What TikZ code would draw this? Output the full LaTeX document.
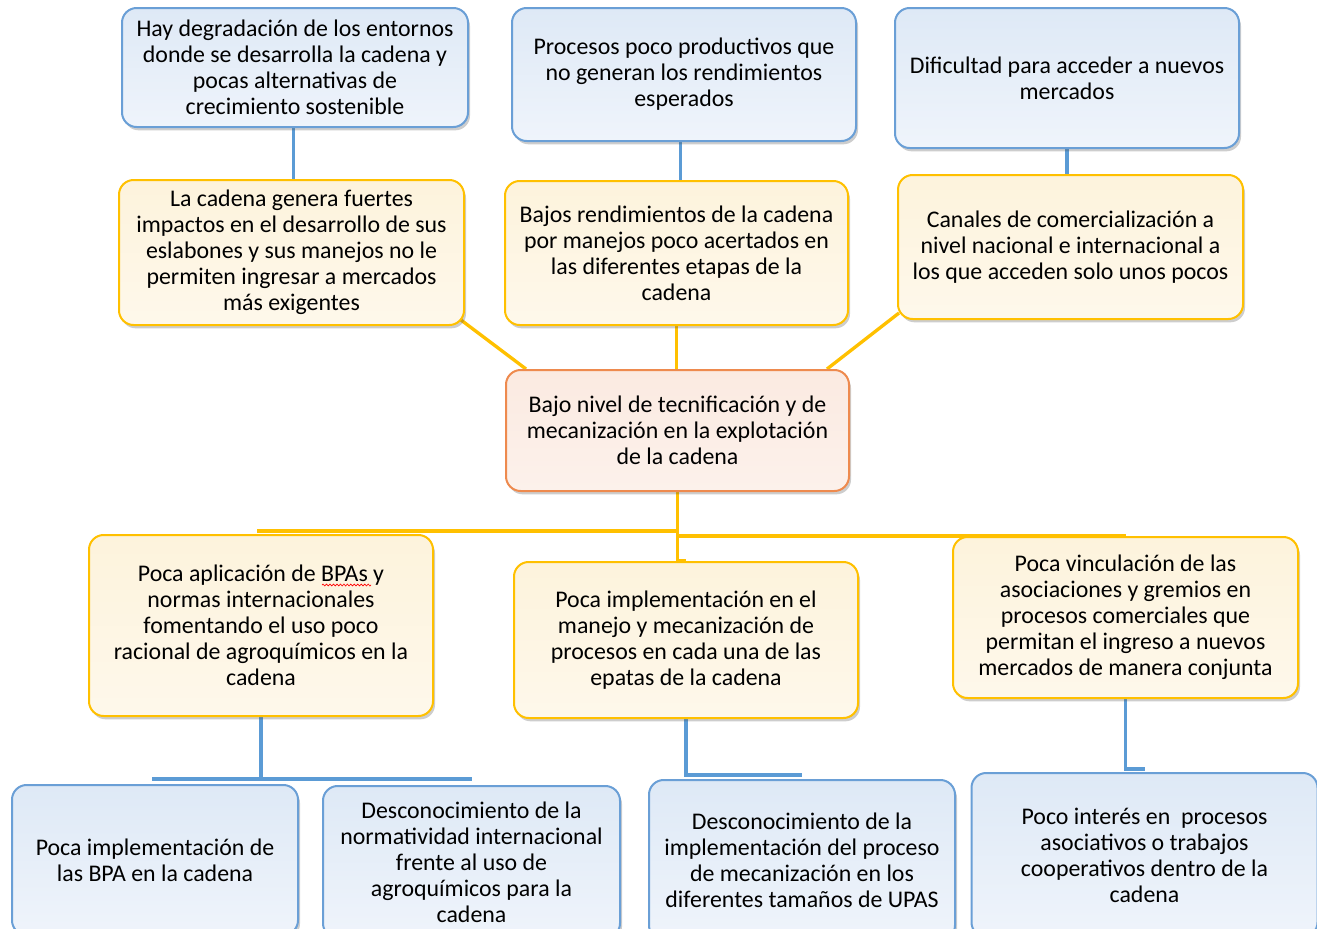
\documentclass[tikz,border=0pt]{standalone}
\usepackage{fontspec}
\setmainfont{Carlito}
\usetikzlibrary{shadows,calc,backgrounds,decorations.pathmorphing}
\definecolor{bborder}{HTML}{6A9FD6}
\definecolor{bfilltop}{HTML}{DEE9F6}
\definecolor{bfillbot}{HTML}{EFF4FB}
\definecolor{yborder}{HTML}{FFC000}
\definecolor{yfilltop}{HTML}{FDF3DC}
\definecolor{yfillbot}{HTML}{FEF8EB}
\definecolor{oborder}{HTML}{EE8A4E}
\definecolor{ofilltop}{HTML}{FBEAE1}
\definecolor{ofillbot}{HTML}{FCF1EB}
\definecolor{bline}{HTML}{5B9BD5}
\definecolor{yline}{HTML}{FFC000}
\begin{document}
\begin{tikzpicture}[x=0.75pt,y=-0.75pt,
  base/.style={rounded corners=11pt, line width=1.5pt, align=center, inner sep=0pt,
    font=\fontsize{17.9pt}{19.5pt}\selectfont,
    drop shadow={shadow xshift=1.5pt, shadow yshift=-2.5pt, opacity=0.28, fill=black!70}},
  bluebox/.style={base, draw=bborder, top color=bfilltop, bottom color=bfillbot},
  yelbox/.style={base, draw=yborder, top color=yfilltop, bottom color=yfillbot},
  orgbox/.style={base, draw=oborder, top color=ofilltop, bottom color=ofillbot},
  sz/.style 2 args={minimum width=#1*0.75pt, minimum height=#2*0.75pt},
  blueconn/.style={draw=bline, line width=2.5pt},
  yelconn/.style={draw=yline, line width=2.5pt}
]
\useasboundingbox (0,0) rectangle (1317,928);
\clip (0,0) rectangle (1317,928);

% top row
\node[bluebox, sz={346}{119}] (B1) at (295,67.5) {Hay degradación de los entornos\\donde se desarrolla la cadena y\\pocas alternativas de\\crecimiento sostenible};
\node[bluebox, sz={344}{133}] (B2) at (684,74.5) {Procesos poco productivos que\\no generan los rendimientos\\esperados};
\node[bluebox, sz={344}{140}] (B3) at (1067,78) {Dificultad para acceder a nuevos\\mercados};

% second row
\node[yelbox, sz={345}{145}] (Y1) at (291.5,252.5) {La cadena genera fuertes\\impactos en el desarrollo de sus\\eslabones y sus manejos no le\\permiten ingresar a mercados\\más exigentes};
\node[yelbox, sz={343}{144}] (Y2) at (676.5,253) {Bajos rendimientos de la cadena\\por manejos poco acertados en\\las diferentes etapas de la\\cadena};
\node[yelbox, sz={345}{144}] (Y3) at (1070.5,247) {Canales de comercialización a\\nivel nacional e internacional a\\los que acceden solo unos pocos};

% center
\node[orgbox, sz={343}{121}] (C) at (677.5,430.5) {Bajo nivel de tecnificación y de\\mecanización en la explotación\\de la cadena};

% third row
\node[yelbox, sz={344}{181}] (L1) at (261,625.5) {Poca aplicación de BPAs y\\normas internacionales\\fomentando el uso poco\\racional de agroquímicos en la\\cadena};
\node[yelbox, sz={344}{156}] (L2) at (686,640) {Poca implementación en el\\manejo y mecanización de\\procesos en cada una de las\\epatas de la cadena};
\node[yelbox, sz={345}{161}] (L3) at (1125.5,617.5) {Poca vinculación de las\\asociaciones y gremios en\\procesos comerciales que\\permitan el ingreso a nuevos\\mercados de manera conjunta};

% bottom row
\node[bluebox, sz={286}{150}] (D1) at (155,860) {Poca implementación de\\las BPA en la cadena};
\node[bluebox, sz={297}{152}] (D2) at (471.5,862) {Desconocimiento de la\\normatividad internacional\\frente al uso de\\agroquímicos para la\\cadena};
\node[bluebox, sz={306}{160}] (D3) at (802,860) {Desconocimiento de la\\implementación del proceso\\de mecanización en los\\diferentes tamaños de UPAS};
\node[bluebox, sz={346}{164}] (D4) at (1144.5,855) {Poco interés en~ procesos\\asociativos o trabajos\\cooperativos dentro de la\\cadena};

% spell-check mark under "BPAs"
\draw[red, line width=0.5pt, decorate, decoration={snake, amplitude=0.7pt, segment length=2.6pt}] (322,585) -- (371,585);

\begin{scope}[on background layer]
  % blue top connectors
  \coordinate (m1) at ($(B1.south)!.5!(Y1.north)$);
  \draw[blueconn] (m1 |- B1.south) -- (m1 |- Y1.north);
  \coordinate (m2) at ($(B2.south)!.5!(Y2.north)$);
  \draw[blueconn] (m2 |- B2.south) -- (m2 |- Y2.north);
  \draw[blueconn] (B3.south) -- (B3.south |- Y3.north);
  % yellow connectors to center
  \draw[yelconn] ($(Y1.south east)+(-4,-6)$) -- ($(C.north west)+(21,0)$);
  \draw[yelconn] (Y2.south) -- (Y2.south |- C.north);
  \draw[yelconn] ($(Y3.south west)+(2,-7)$) -- ($(C.north east)+(-23,0)$);
  % center down to third row
  \draw[yelconn] (C.south) |- ($(L1.north)+(-4,-3)$);
  \draw[yelconn] (C.south) |- (L3.north);
  \draw[yelconn] (C.south) |- (L2.north);
  % blue bottom connectors
  \draw[blueconn] (L1.south) |- ($(D1.north)+(-3,-5)$);
  \draw[blueconn] (L1.south) |- ($(D2.north)+(0,-6)$);
  \draw[blueconn] (L2.south) |- ($(D3.north)+(0,-4)$);
  \draw[blueconn] (L3.south) |- ($(D4.north)+(0,-3)$);
\end{scope}
\end{tikzpicture}
\end{document}
